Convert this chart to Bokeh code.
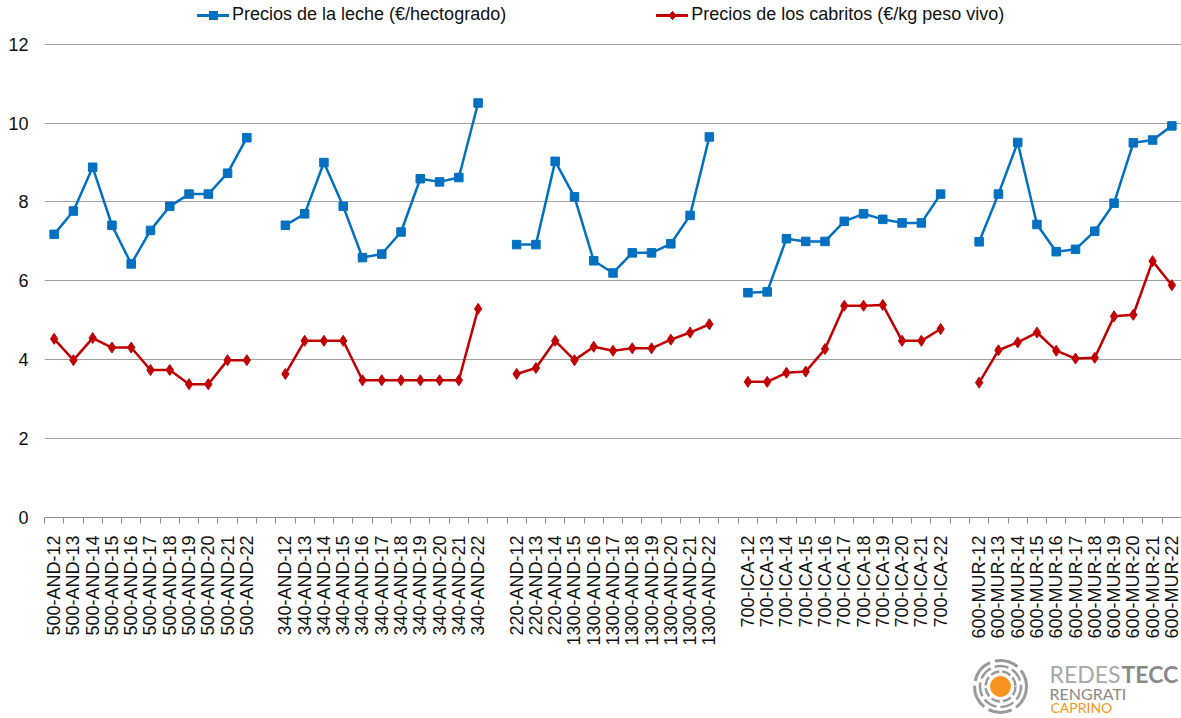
import math
from bokeh.plotting import figure
from bokeh.layouts import column, row
from bokeh.models import Range1d, FixedTicker, Legend, LegendItem, Spacer
from bokeh.core.properties import value
from bokeh.embed import file_html
from bokeh.resources import INLINE

# ---------------- data ----------------
cats_g1 = ["500-AND-12", "500-AND-13", "500-AND-14", "500-AND-15", "500-AND-16", "500-AND-17",
           "500-AND-18", "500-AND-19", "500-AND-20", "500-AND-21", "500-AND-22"]
cats_g2 = ["340-AND-12", "340-AND-13", "340-AND-14", "340-AND-15", "340-AND-16", "340-AND-17",
           "340-AND-18", "340-AND-19", "340-AND-20", "340-AND-21", "340-AND-22"]
cats_g3 = ["220-AND-12", "220-AND-13", "220-AND-14", "1300-AND-15", "1300-AND-16", "1300-AND-17",
           "1300-AND-18", "1300-AND-19", "1300-AND-20", "1300-AND-21", "1300-AND-22"]
cats_g4 = ["700-ICA-12", "700-ICA-13", "700-ICA-14", "700-ICA-15", "700-ICA-16", "700-ICA-17",
           "700-ICA-18", "700-ICA-19", "700-ICA-20", "700-ICA-21", "700-ICA-22"]
cats_g5 = ["600-MUR-12", "600-MUR-13", "600-MUR-14", "600-MUR-15", "600-MUR-16", "600-MUR-17",
           "600-MUR-18", "600-MUR-19", "600-MUR-20", "600-MUR-21", "600-MUR-22"]

milk_g1 = [7.18, 7.77, 8.88, 7.41, 6.43, 7.28, 7.89, 8.20, 8.20, 8.73, 9.63]
milk_g2 = [7.41, 7.70, 9.00, 7.89, 6.59, 6.68, 7.24, 8.59, 8.51, 8.62, 10.51]
milk_g3 = [6.92, 6.92, 9.03, 8.13, 6.51, 6.20, 6.71, 6.71, 6.94, 7.66, 9.65]
milk_g4 = [5.70, 5.72, 7.07, 7.00, 7.00, 7.51, 7.70, 7.56, 7.47, 7.47, 8.20]
milk_g5 = [6.99, 8.20, 9.51, 7.43, 6.74, 6.80, 7.26, 7.97, 9.50, 9.57, 9.93]

kids_g1 = [4.53, 3.99, 4.55, 4.31, 4.31, 3.74, 3.74, 3.38, 3.38, 3.99, 3.99]
kids_g2 = [3.64, 4.48, 4.48, 4.48, 3.48, 3.48, 3.48, 3.48, 3.48, 3.48, 5.29]
kids_g3 = [3.64, 3.79, 4.48, 3.99, 4.33, 4.23, 4.29, 4.29, 4.51, 4.69, 4.90]
kids_g4 = [3.44, 3.44, 3.67, 3.70, 4.27, 5.37, 5.37, 5.39, 4.48, 4.48, 4.78]
kids_g5 = [3.42, 4.24, 4.44, 4.69, 4.23, 4.03, 4.05, 5.10, 5.14, 6.50, 5.89]

y_ticks = [0, 2, 4, 6, 8, 10, 12]
milk_label = "Precios de la leche (€/hectogrado)"
kids_label = "Precios de los cabritos (€/kg peso vivo)"

groups = [(cats_g1, milk_g1, kids_g1), (cats_g2, milk_g2, kids_g2), (cats_g3, milk_g3, kids_g3),
          (cats_g4, milk_g4, kids_g4), (cats_g5, milk_g5, kids_g5)]

# full category axis, one empty slot between groups
x_labels = []
for gi, (cats, _, _) in enumerate(groups):
    if gi > 0:
        x_labels.append("")
    x_labels.extend(cats)
n = len(x_labels)

BLUE = "#0070C0"
RED = "#C00000"
FONT = "Liberation Sans"

p = figure(width=1181, height=648, title=None,
           x_range=Range1d(-0.5, n - 0.5), y_range=Range1d(0, 13.109),
           output_backend="svg", toolbar_location=None,
           min_border_left=44, min_border_right=0, min_border_top=0, min_border_bottom=128)
p.outline_line_color = None
p.background_fill_color = "white"

milk_r, kids_r = [], []
for gi, (cats, milk, kids) in enumerate(groups):
    xs = [x_labels.index(c) for c in cats]
    milk_r.append(p.line(xs, milk, line_color=BLUE, line_width=2.5))
    milk_r.append(p.scatter(xs, milk, marker="square", size=8.5, fill_color=BLUE, line_color=BLUE))
    kids_r.append(p.line(xs, kids, line_color=RED, line_width=2.5))
    kids_r.append(p.scatter(xs, kids, marker="diamond", size=11, fill_color=RED, line_color=RED))

# axes
xa = p.xaxis[0]
xa.ticker = FixedTicker(ticks=list(range(n)), minor_ticks=[i - 0.5 for i in range(n + 1)])
xa.major_label_overrides = {i: lab for i, lab in enumerate(x_labels)}
xa.major_label_orientation = math.pi / 2
xa.major_tick_out = 0
xa.major_tick_in = 0
xa.minor_tick_out = 6
xa.minor_tick_in = 0
xa.minor_tick_line_color = "#8c8c8c"
xa.axis_line_color = "#8c8c8c"
xa.major_label_standoff = 12
xa.major_label_text_font = FONT
xa.major_label_text_font_size = "18px"
xa.major_label_text_color = "#111111"

ya = p.yaxis[0]
ya.ticker = FixedTicker(ticks=y_ticks)
ya.axis_line_color = None
ya.major_tick_out = 0
ya.major_tick_in = 0
ya.minor_tick_out = 0
ya.minor_tick_in = 0
ya.major_label_standoff = 16
ya.major_label_text_font = FONT
ya.major_label_text_font_size = "18px"
ya.major_label_text_color = "#111111"

p.xgrid.visible = False
p.ygrid.ticker = FixedTicker(ticks=y_ticks[1:])
p.ygrid.grid_line_color = "#a0a0a0"
p.ygrid.grid_line_width = 1

legend = Legend(items=[LegendItem(label=milk_label, renderers=milk_r),
                       LegendItem(label=kids_label, renderers=kids_r)],
                orientation="horizontal", location=(153, 492), spacing=150,
                glyph_width=32, glyph_height=20, label_standoff=3, label_height=20,
                label_text_font=FONT, label_text_font_size="18px", label_text_color="#111111",
                border_line_color=None, background_fill_alpha=0, padding=0, margin=0)
p.add_layout(legend, "center")

# ---------------- logo (decoration) ----------------
lg = figure(width=209, height=70, title=None, x_range=Range1d(0, 209), y_range=Range1d(70, 0),
            output_backend="svg", toolbar_location=None,
            x_axis_location=None, y_axis_location=None,
            min_border_left=0, min_border_right=0, min_border_top=0, min_border_bottom=0)
lg.outline_line_color = None
lg.xgrid.visible = False
lg.ygrid.visible = False
lcx, lcy = 28, 38
lg.circle(x=[lcx], y=[lcy], radius=10, fill_color="#F7941D", line_color="#F7941D")
for r, dash, w in [(15, "9 3", 2.5), (20.5, "14 4", 2.5), (26, "24 5", 3)]:
    lg.circle(x=[lcx], y=[lcy], radius=r, fill_alpha=0, line_color="#9a9a9a",
              line_width=w, line_dash=dash)
lg.text(x=[77], y=[25], text=["REDES"], text_font=value("Lato"), text_font_size="23px",
        text_color="#a8a8a8", text_baseline="alphabetic")
lg.text(x=[149], y=[25], text=["TECC"], text_font=value("Lato"), text_font_size="23px",
        text_font_style="bold", text_color="#8a8a8a", text_baseline="alphabetic")
lg.text(x=[77], y=[45], text=["RENGRATI"], text_font=value("Lato"), text_font_size="16px",
        text_color="#8a8a8a", text_baseline="alphabetic")
lg.text(x=[78], y=[59], text=["CAPRINO"], text_font=value("Lato"), text_font_size="14px",
        text_color="#F7941D", text_baseline="alphabetic")

layout = column(p, row(Spacer(width=972, height=70), lg))
open("out.html", "w").write(file_html(layout, INLINE))
